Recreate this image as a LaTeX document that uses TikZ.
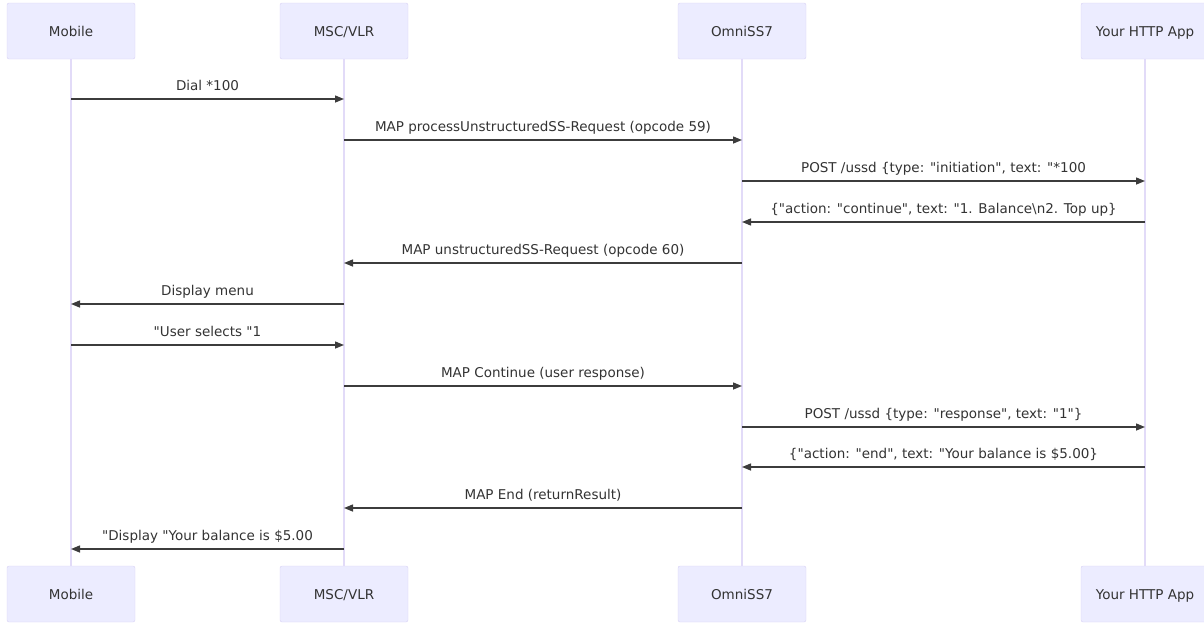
\documentclass[tikz,border=0pt]{standalone}
\usepackage{fontspec}
\setmainfont{DejaVu Sans}[Ligatures=TeXOff]
\usetikzlibrary{arrows.meta}
\definecolor{actfill}{HTML}{ECECFF}
\definecolor{actline}{HTML}{D8D0F4}
\definecolor{lifeline}{HTML}{E2DBF8}
\definecolor{msgline}{HTML}{3C3C3C}
\definecolor{msgtext}{HTML}{333333}
\begin{document}
\begin{tikzpicture}[x=1pt,y=-1pt]
\tikzstyle{actor}=[rectangle,rounded corners=2pt,draw=actline,fill=actfill,minimum width=128pt,minimum height=56pt,text=msgtext,text height=12pt,text depth=2pt,font=\fontsize{13.5}{16}\selectfont]
\tikzstyle{life}=[draw=lifeline,line width=1.5pt]
\tikzstyle{msg}=[draw=msgline,line width=1.4pt,-{Triangle[length=9pt,width=7pt]}]
\tikzstyle{lbl}=[text=msgtext,font=\fontsize{13.5}{16}\selectfont,anchor=base,inner sep=0pt]
\useasboundingbox (0,0) rectangle (1204,622);
\node [actor] (mobT) at (71,31) {Mobile};
\node [actor] (mscT) at (344,31) {MSC/VLR};
\node [actor] (omnT) at (742,31) {OmniSS7};
\node [actor] (appT) at (1145,31) {Your HTTP App};
\node [actor] (mobB) at (71,594) {Mobile};
\node [actor] (mscB) at (344,594) {MSC/VLR};
\node [actor] (omnB) at (742,594) {OmniSS7};
\node [actor] (appB) at (1145,594) {Your HTTP App};
\draw [life] (mobT) -- (mobB);
\draw [life] (mscT) -- (mscB);
\draw [life] (omnT) -- (omnB);
\draw [life] (appT) -- (appB);
\coordinate (r1) at (0,99);
\coordinate (r2) at (0,140);
\coordinate (r3) at (0,181);
\coordinate (r4) at (0,222);
\coordinate (r5) at (0,263);
\coordinate (r6) at (0,304);
\coordinate (r7) at (0,345);
\coordinate (r8) at (0,386);
\coordinate (r9) at (0,427);
\coordinate (r10) at (0,467);
\coordinate (r11) at (0,508);
\coordinate (r12) at (0,549);
\draw [msg] (mobT |- r1) -- node [lbl,yshift=9pt] (l1) {Dial *100} (mscT |- r1);
\draw [msg] (mscT |- r2) -- node [lbl,yshift=9pt] (l2) {MAP processUnstructuredSS-Request (opcode 59)} (omnT |- r2);
\draw [msg] (omnT |- r3) -- node [lbl,yshift=9pt] (l3) {POST /ussd \{type: "initiation", text: "*100} (appT |- r3);
\draw [msg] (appT |- r4) -- node [lbl,yshift=9pt] (l4) {\{"action: "continue", text: "1. Balance\textbackslash n2. Top up\}} (omnT |- r4);
\draw [msg] (omnT |- r5) -- node [lbl,yshift=9pt] (l5) {MAP unstructuredSS-Request (opcode 60)} (mscT |- r5);
\draw [msg] (mscT |- r6) -- node [lbl,yshift=9pt] (l6) {Display menu} (mobT |- r6);
\draw [msg] (mobT |- r7) -- node [lbl,yshift=9pt] (l7) {"User selects "1} (mscT |- r7);
\draw [msg] (mscT |- r8) -- node [lbl,yshift=9pt] (l8) {MAP Continue (user response)} (omnT |- r8);
\draw [msg] (omnT |- r9) -- node [lbl,yshift=9pt] (l9) {POST /ussd \{type: "response", text: "1"\}} (appT |- r9);
\draw [msg] (appT |- r10) -- node [lbl,yshift=9pt] (l10) {\{"action: "end", text: "Your balance is \$5.00\}} (omnT |- r10);
\draw [msg] (omnT |- r11) -- node [lbl,yshift=9pt] (l11) {MAP End (returnResult)} (mscT |- r11);
\draw [msg] (mscT |- r12) -- node [lbl,yshift=9pt] (l12) {"Display "Your balance is \$5.00} (mobT |- r12);
\end{tikzpicture}
\end{document}
